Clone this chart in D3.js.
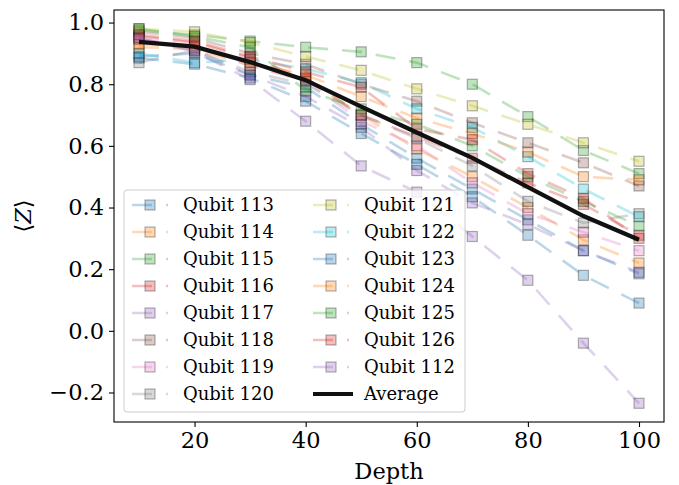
<!DOCTYPE html>
<html>
<head>
<meta charset="utf-8">
<script src="https://cdn.jsdelivr.net/npm/d3@7"></script>
<style>
  body { margin: 0; background: #fff; }
  text { font-family: "DejaVu Serif", serif; }
</style>
</head>
<body>
<div id="chart"></div>
<script>
// depth values on the x axis
var depths = [10, 20, 30, 40, 50, 60, 70, 80, 90, 100];

// <Z> per qubit (depth 10 .. 100)
var q113 = [0.89, 0.90, 0.83, 0.79, 0.67, 0.56, 0.46, 0.36, 0.26, 0.185];
var q114 = [0.92, 0.915, 0.86, 0.815, 0.70, 0.59, 0.50, 0.40, 0.295, 0.22];
var q115 = [0.975, 0.96, 0.94, 0.92, 0.905, 0.87, 0.80, 0.695, 0.585, 0.51];
var q116 = [0.955, 0.935, 0.885, 0.82, 0.70, 0.63, 0.56, 0.48, 0.41, 0.31];
var q117 = [0.95, 0.91, 0.83, 0.76, 0.66, 0.52, 0.415, 0.345, 0.26, 0.19];
var q118 = [0.97, 0.95, 0.90, 0.865, 0.80, 0.745, 0.675, 0.61, 0.545, 0.47];
var q119 = [0.945, 0.925, 0.86, 0.81, 0.68, 0.60, 0.48, 0.38, 0.32, 0.26];
var q120 = [0.87, 0.91, 0.84, 0.80, 0.70, 0.625, 0.535, 0.42, 0.35, 0.38];
var q121 = [0.98, 0.97, 0.935, 0.89, 0.845, 0.785, 0.73, 0.67, 0.61, 0.55];
var q122 = [0.90, 0.87, 0.88, 0.85, 0.805, 0.72, 0.66, 0.565, 0.46, 0.37];
var q123 = [0.885, 0.865, 0.82, 0.745, 0.64, 0.54, 0.435, 0.31, 0.18, 0.09];
var q124 = [0.93, 0.92, 0.87, 0.83, 0.76, 0.69, 0.64, 0.58, 0.50, 0.49];
var q125 = [0.98, 0.955, 0.92, 0.78, 0.72, 0.67, 0.60, 0.50, 0.42, 0.34];
var q126 = [0.96, 0.94, 0.89, 0.84, 0.79, 0.655, 0.62, 0.51, 0.43, 0.30];
var q112 = [0.95, 0.905, 0.815, 0.68, 0.535, 0.45, 0.306, 0.164, -0.04, -0.235];

var qubitLabels = ["Qubit 113", "Qubit 114", "Qubit 115", "Qubit 116", "Qubit 117",
  "Qubit 118", "Qubit 119", "Qubit 120", "Qubit 121", "Qubit 122", "Qubit 123",
  "Qubit 124", "Qubit 125", "Qubit 126", "Qubit 112"];
var qubitValues = [q113, q114, q115, q116, q117, q118, q119, q120, q121, q122,
  q123, q124, q125, q126, q112];

var xTicks = [20, 40, 60, 80, 100];
var yTicks = [-0.2, 0.0, 0.2, 0.4, 0.6, 0.8, 1.0];

var colors = ["#1f77b4", "#ff7f0e", "#2ca02c", "#d62728", "#9467bd",
  "#8c564b", "#e377c2", "#7f7f7f", "#bcbd22", "#17becf"];

var width = 679, height = 485;
var margin = { top: 10, right: 15, bottom: 63, left: 114 };

var series = qubitValues.map(function(vals, i) {
  return { name: qubitLabels[i], color: colors[i % 10],
    points: vals.map(function(v, j) { return { depth: depths[j], z: v }; }) };
});
var average = depths.map(function(d, j) {
  return { depth: d, z: d3.mean(qubitValues, function(v) { return v[j]; }) };
});

// matplotlib style 5% padding
var xExt = d3.extent(depths);
var xPad = (xExt[1] - xExt[0]) * 0.05;
var allZ = [].concat.apply([], qubitValues);
var yExt = d3.extent(allZ);
var yPad = (yExt[1] - yExt[0]) * 0.05;

var x = d3.scaleLinear().domain([xExt[0] - xPad, xExt[1] + xPad])
  .range([margin.left, width - margin.right]);
var y = d3.scaleLinear().domain([yExt[0] - yPad, yExt[1] + yPad])
  .range([height - margin.bottom, margin.top]);

var svg = d3.select("#chart").append("svg")
  .attr("width", width).attr("height", height);

var line = d3.line().x(function(d) { return x(d.depth); }).y(function(d) { return y(d.z); });

var dash = "20,14";
var ms = 10;

// qubit curves, each drawn with its markers like matplotlib does
series.forEach(function(s) {
  var g = svg.append("g");
  g.append("path").datum(s.points).attr("d", line)
    .attr("fill", "none").attr("stroke", s.color).attr("stroke-width", 2.6)
    .attr("stroke-dasharray", dash).attr("stroke-opacity", 0.3);
  g.selectAll("rect").data(s.points).enter().append("rect")
    .attr("x", function(d) { return x(d.depth) - ms / 2; })
    .attr("y", function(d) { return y(d.z) - ms / 2; })
    .attr("width", ms).attr("height", ms)
    .attr("fill", s.color).attr("fill-opacity", 0.3)
    .attr("stroke", "#000").attr("stroke-opacity", 0.3).attr("stroke-width", 1.2);
});

svg.append("path").datum(average).attr("d", line)
  .attr("fill", "none").attr("stroke", "#111").attr("stroke-width", 4.2);

// axes
var xAxis = d3.axisBottom(x).tickValues(xTicks).tickSize(5).tickPadding(5).tickFormat(d3.format("d"));
var yAxis = d3.axisLeft(y).tickValues(yTicks).tickSize(5).tickPadding(5).tickFormat(d3.format(".1f"));

svg.append("g").attr("transform", "translate(0," + (height - margin.bottom) + ")").call(xAxis)
  .call(function(g) { g.select(".domain").remove(); });
svg.append("g").attr("transform", "translate(" + margin.left + ",0)").call(yAxis)
  .call(function(g) { g.select(".domain").remove(); });
svg.selectAll(".tick text").attr("font-family", "DejaVu Serif").attr("font-size", 22.5).attr("fill", "#000");
svg.selectAll(".tick line").attr("stroke", "#000").attr("stroke-width", 1.1);

svg.append("rect").attr("x", margin.left).attr("y", margin.top)
  .attr("width", width - margin.right - margin.left)
  .attr("height", height - margin.bottom - margin.top)
  .attr("fill", "none").attr("stroke", "#000").attr("stroke-width", 1.1);

svg.append("text").attr("x", (margin.left + width - margin.right) / 2).attr("y", 479)
  .attr("text-anchor", "middle").attr("font-size", 22.5).text("Depth");

var yl = svg.append("text").attr("transform", "translate(31," + ((margin.top + height - margin.bottom) / 2) + ") rotate(-90)")
  .attr("text-anchor", "middle").attr("font-size", 22.5).attr("font-family", "DejaVu Sans");
yl.append("tspan").text("\u27E8");
yl.append("tspan").attr("font-style", "italic").text("Z");
yl.append("tspan").text("\u27E9");

// legend
var lg = svg.append("g").attr("transform", "translate(124,190)");
lg.append("rect").attr("width", 341).attr("height", 222).attr("rx", 3)
  .attr("fill", "#fff").attr("fill-opacity", 0.8)
  .attr("stroke", "#ccc").attr("stroke-width", 1);

var legendItems = series.concat([{ name: "Average", avg: true }]);
legendItems.forEach(function(s, i) {
  var col = Math.floor(i / 8), row = i % 8;
  var gx = col === 0 ? 8 : 189;
  var gy = 15 + row * 27;
  var it = lg.append("g").attr("transform", "translate(" + gx + "," + gy + ")");
  if (s.avg) {
    it.append("line").attr("x1", 0).attr("x2", 40).attr("y1", 0).attr("y2", 0)
      .attr("stroke", "#111").attr("stroke-width", 4.2);
  } else {
    it.append("line").attr("x1", 0).attr("x2", 36).attr("y1", 0).attr("y2", 0)
      .attr("stroke", s.color).attr("stroke-width", 2.6).attr("stroke-opacity", 0.3)
      .attr("stroke-dasharray", dash);
    it.append("rect").attr("x", 18 - ms / 2).attr("y", -ms / 2).attr("width", ms).attr("height", ms)
      .attr("fill", s.color).attr("fill-opacity", 0.3)
      .attr("stroke", "#000").attr("stroke-opacity", 0.3).attr("stroke-width", 1.2);
  }
  it.append("text").attr("x", 51).attr("y", 0).attr("dy", "0.35em")
    .attr("font-size", 18).text(s.name);
});
</script>
</body>
</html>
